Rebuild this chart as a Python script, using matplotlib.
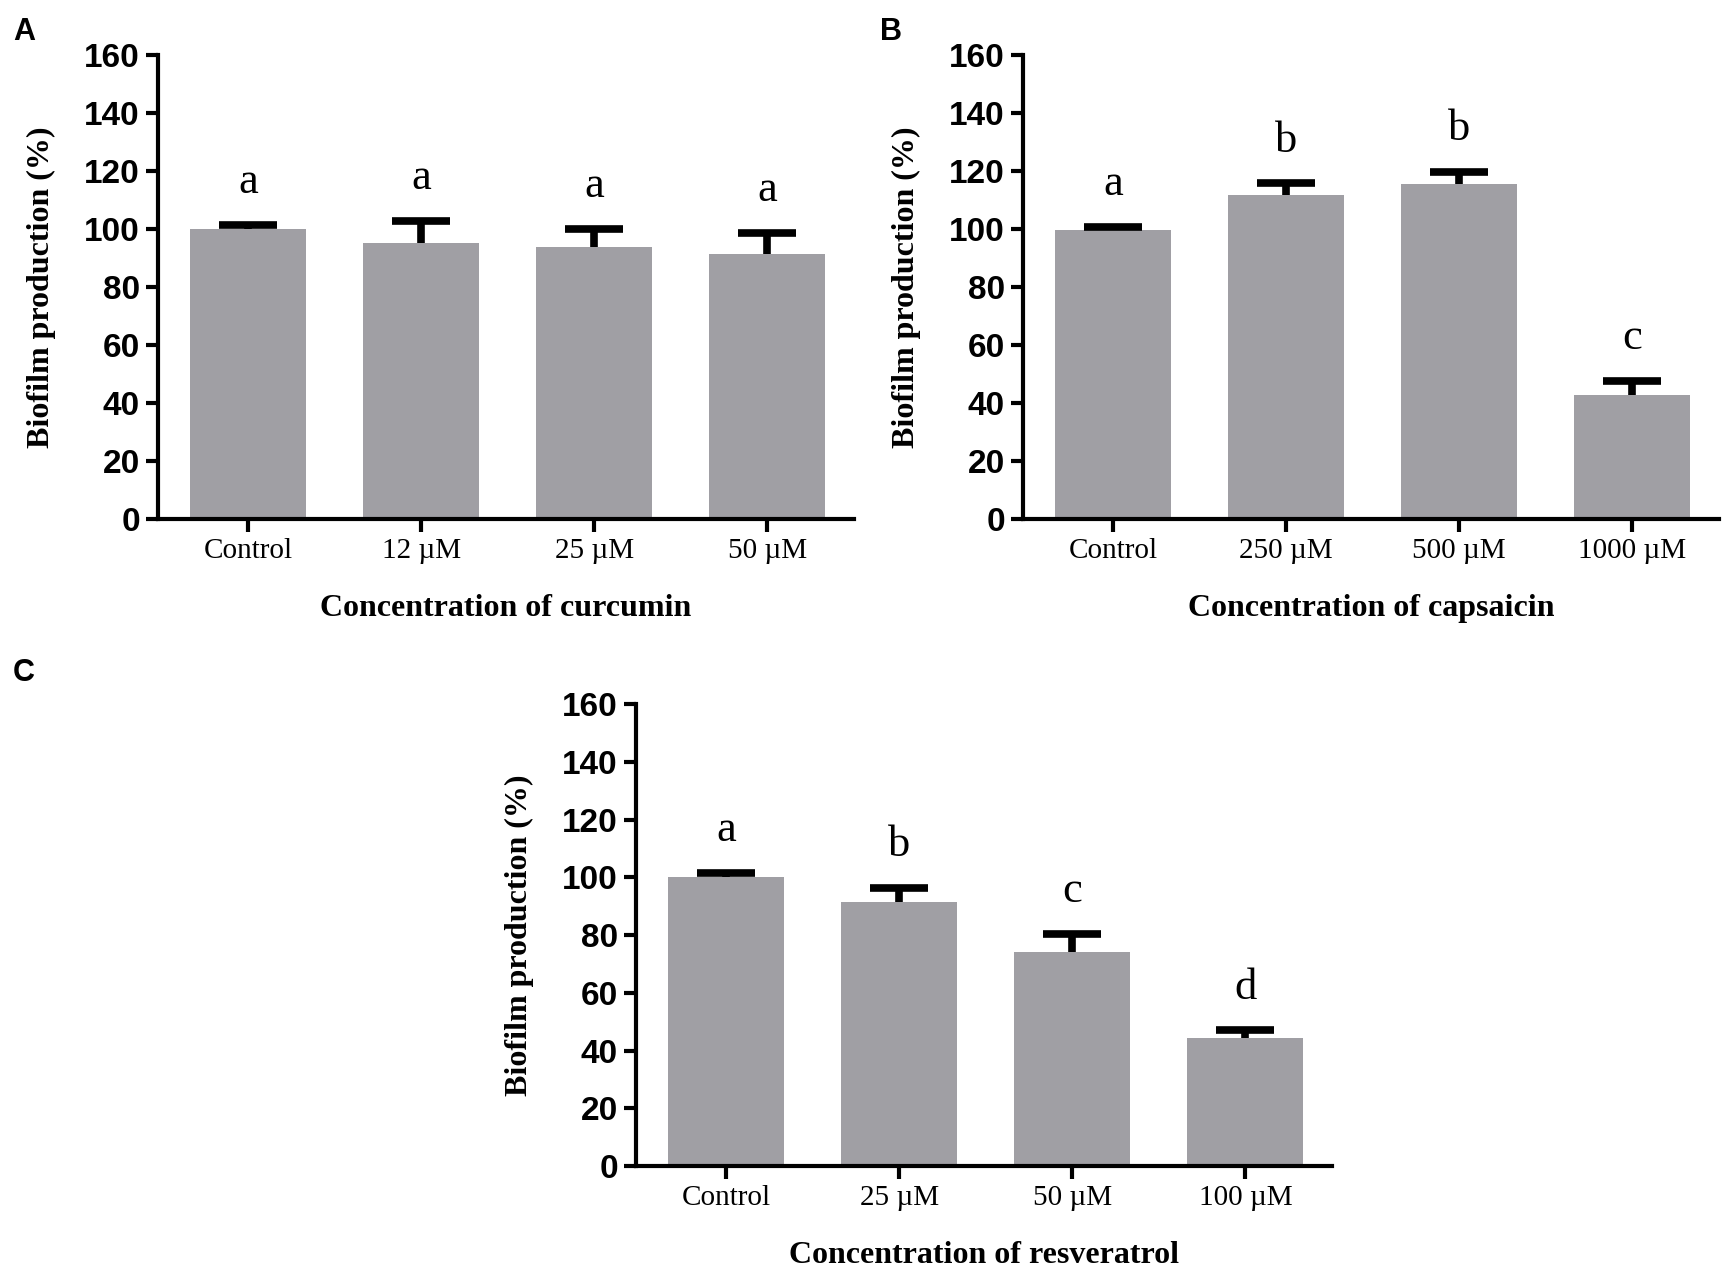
import matplotlib
matplotlib.use("Agg")
import matplotlib.pyplot as plt
import numpy as np

# panel A - curcumin
cats_a = ["Control", "12 µM", "25 µM", "50 µM"]
mean_a = [100.0, 95.3, 93.9, 91.3]
err_a = [1.5, 7.6, 6.2, 7.4]
let_a = ["a", "a", "a", "a"]

# panel B - capsaicin
cats_b = ["Control", "250 µM", "500 µM", "1000 µM"]
mean_b = [99.5, 111.8, 115.4, 42.6]
err_b = [1.3, 3.9, 4.3, 5.1]
let_b = ["a", "b", "b", "c"]

# panel C - resveratrol
cats_c = ["Control", "25 µM", "50 µM", "100 µM"]
mean_c = [100.0, 91.6, 74.3, 44.2]
err_c = [1.6, 4.8, 6.2, 2.8]
let_c = ["a", "b", "c", "d"]

yticks = [0, 20, 40, 60, 80, 100, 120, 140, 160]

SERIF = "Liberation Serif"
SANS = "Liberation Sans"
BAR = "#a09fa4"


def draw_panel(ax, cats, means, errs, letters, xlabel):
    x = np.arange(len(cats))
    ax.bar(x, means, width=0.67, color=BAR, zorder=2)
    # upper error bars only (GraphPad style)
    _, caps, _ = ax.errorbar(x, means, yerr=[np.zeros(len(errs)), errs],
                             fmt="none", ecolor="black", elinewidth=5.5,
                             capsize=21, capthick=5.5, zorder=3)
    caps[0].set_visible(False)
    for xi, m, e, l in zip(x, means, errs, letters):
        ax.text(xi, m + e + 11, l, ha="center", va="baseline",
                fontsize=32, family=SERIF, color="black")
    ax.set_xlim(-0.52, 3.5)
    ax.set_ylim(0, 160)
    ax.set_xticks(x)
    ax.set_xticklabels(cats, fontsize=21, family=SERIF)
    ax.set_yticks(yticks)
    ax.set_yticklabels([str(t) for t in yticks], fontsize=24,
                       family=SANS, fontweight="bold")
    for s in ["top", "right"]:
        ax.spines[s].set_visible(False)
    for s in ["left", "bottom"]:
        ax.spines[s].set_linewidth(3)
    ax.tick_params(axis="both", direction="out", length=9, width=3)
    ax.tick_params(axis="x", pad=5)
    ax.tick_params(axis="y", pad=4)
    ax.set_ylabel("Biofilm production (%)", fontsize=23, family=SERIF,
                  fontweight="bold")
    ax.yaxis.set_label_coords(-102 / 696, 0.5)
    ax.set_xlabel(xlabel, fontsize=23, family=SERIF, fontweight="bold")
    ax.xaxis.set_label_coords(0.5, -90 / 464)
    ax.xaxis.label.set_va("center")


fig = plt.figure(figsize=(17.25, 12.71), dpi=100)

ax_a = fig.add_axes([0.0916, 0.5917, 0.4035, 0.365])
ax_b = fig.add_axes([0.593, 0.5917, 0.4035, 0.365])
ax_c = fig.add_axes([0.3687, 0.0826, 0.4035, 0.3634])

draw_panel(ax_a, cats_a, mean_a, err_a, let_a, "Concentration of curcumin")
draw_panel(ax_b, cats_b, mean_b, err_b, let_b, "Concentration of capsaicin")
draw_panel(ax_c, cats_c, mean_c, err_c, let_c, "Concentration of resveratrol")

for lab, px, py in [("A", 24, 32), ("B", 891, 32), ("C", 24, 673)]:
    fig.text(px / 1725, 1 - py / 1271, lab, ha="center", va="center",
             fontsize=22, family=SANS, fontweight="bold")

fig.savefig("out.png", dpi=100)
